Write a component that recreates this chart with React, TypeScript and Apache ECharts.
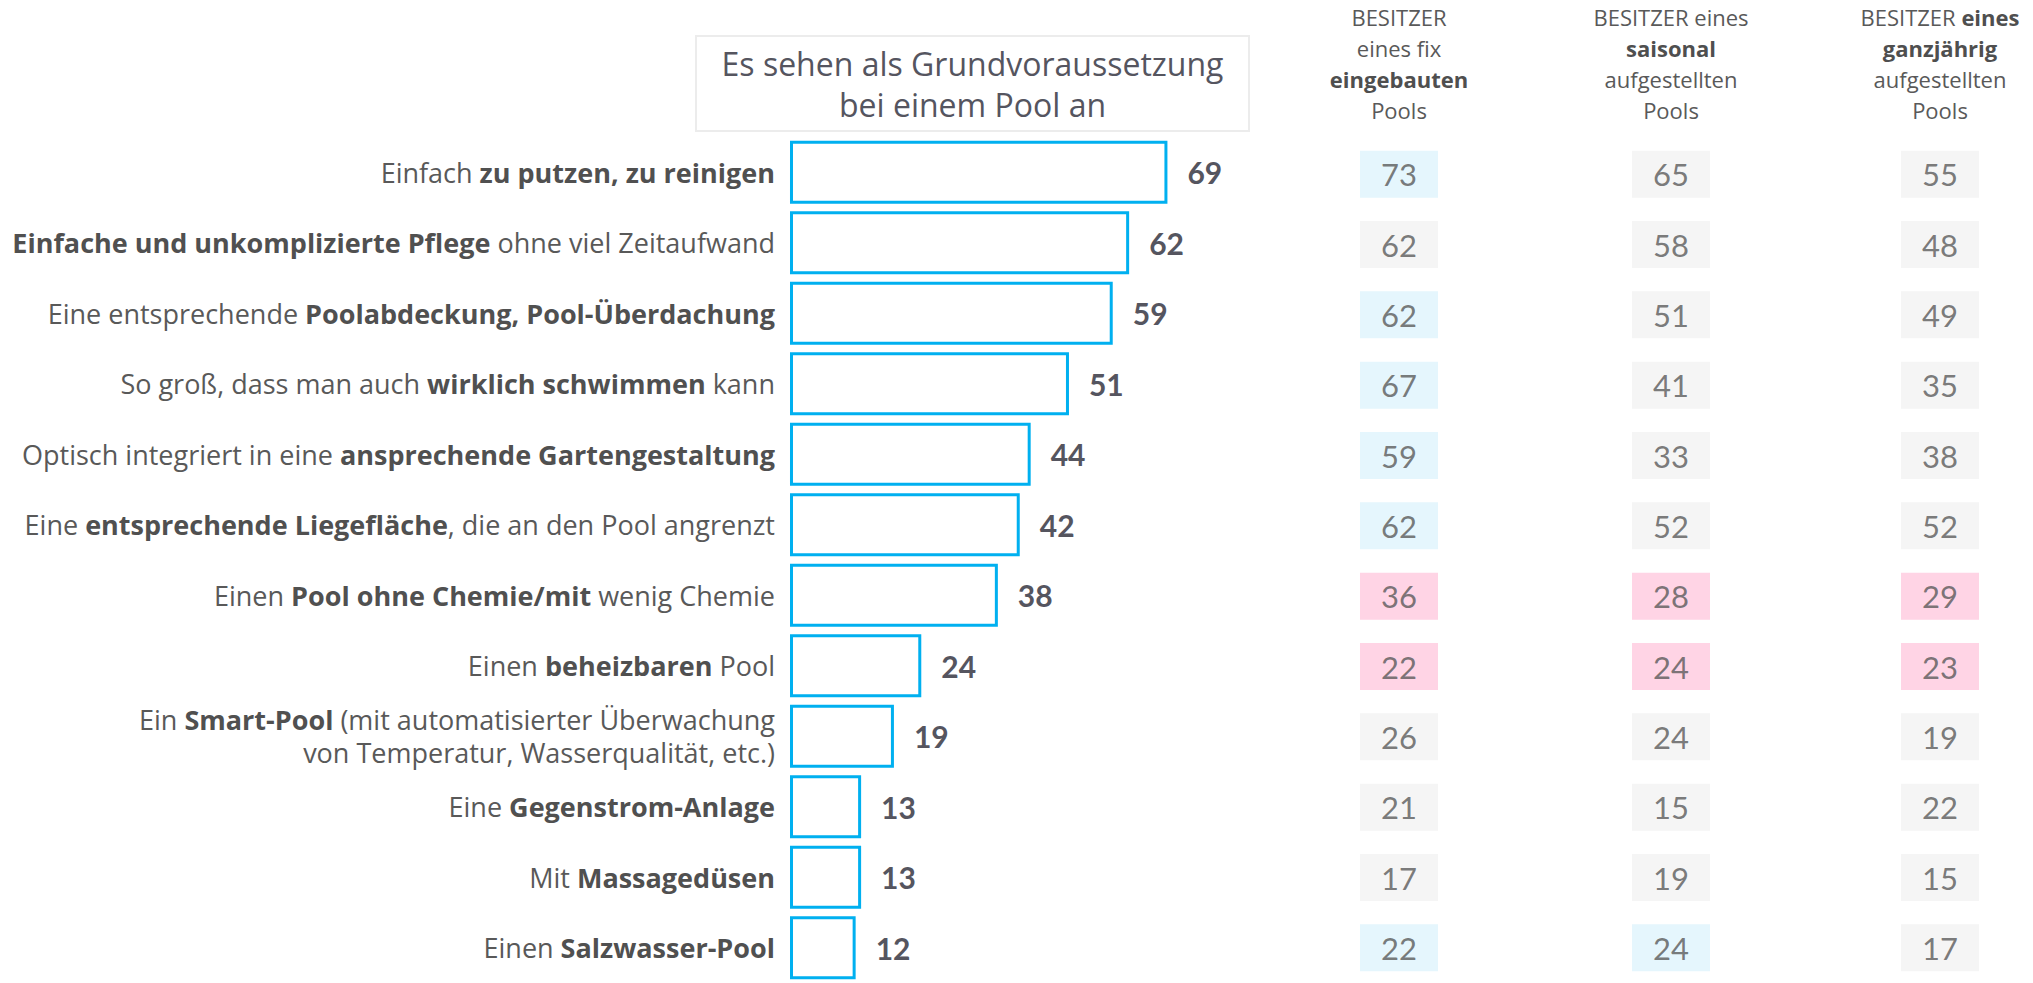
import React, { useEffect, useRef } from "react";
import * as echarts from "echarts";

// ---------- DATA ----------
const categories: string[] = [
  "Einfach {b|zu putzen, zu reinigen}",
  "{b|Einfache und unkomplizierte Pflege} ohne viel Zeitaufwand",
  "Eine entsprechende {b|Poolabdeckung, Pool-Überdachung}",
  "So groß, dass man auch {b|wirklich schwimmen} kann",
  "Optisch integriert in eine {b|ansprechende Gartengestaltung}",
  "Eine {b|entsprechende Liegefläche}, die an den Pool angrenzt",
  "Einen {b|Pool ohne Chemie/mit} wenig Chemie",
  "Einen {b|beheizbaren} Pool",
  "Ein {b|Smart-Pool} (mit automatisierter Überwachung\nvon Temperatur, Wasserqualität, etc.)",
  "Eine {b|Gegenstrom-Anlage}",
  "Mit {b|Massagedüsen}",
  "Einen {b|Salzwasser-Pool}",
];

const totalValues: number[] = [69, 62, 59, 51, 44, 42, 38, 24, 19, 13, 13, 12];

const columnHeaders: string[] = [
  "BESITZER\neines fix\n{b|eingebauten}\nPools",
  "BESITZER eines\n{b|saisonal}\naufgestellten\nPools",
  "BESITZER {b|eines}\n{b|ganzjährig}\naufgestellten\nPools",
];

const fixValues: number[] = [73, 62, 62, 67, 59, 62, 36, 22, 26, 21, 17, 22];
const saisonalValues: number[] = [65, 58, 51, 41, 33, 52, 28, 24, 24, 15, 19, 24];
const ganzjaehrigValues: number[] = [55, 48, 49, 35, 38, 52, 29, 23, 19, 22, 15, 17];

// h = above average (blue), l = below average (pink), n = neutral (grey)
const fixMarks: string[] = ["h", "n", "h", "h", "h", "h", "l", "l", "n", "n", "n", "h"];
const saisonalMarks: string[] = ["n", "n", "n", "n", "n", "n", "l", "l", "n", "n", "n", "h"];
const ganzjaehrigMarks: string[] = ["n", "n", "n", "n", "n", "n", "l", "l", "n", "n", "n", "n"];

const titleText = "Es sehen als Grundvoraussetzung\nbei einem Pool an";

// ---------- STYLE ----------
const FONT = "Open Sans";
const NUMFONT = "Lato";
const TEXT = "#595959";
const markColors: Record<string, string> = { h: "#DFF4FD", l: "#FFC9DE", n: "#F2F2F2" };

export default function App() {
  const ref = useRef<HTMLDivElement>(null);

  useEffect(() => {
    if (!ref.current) return;
    const chart = echarts.init(ref.current, undefined, { renderer: "svg" });

    const rowTop = 137;
    const rowsHeight = 853;
    const colCenters = [1399, 1671, 1940];
    const cellW = 78;

    const colValues = [fixValues, saisonalValues, ganzjaehrigValues];
    const colMarks = [fixMarks, saisonalMarks, ganzjaehrigMarks];

    const grids: any[] = [{ left: 790, top: rowTop, width: 547, height: rowsHeight }];
    const xAxes: any[] = [{ gridIndex: 0, type: "value", min: 0, max: 100, show: false }];
    const yAxes: any[] = [
      {
        gridIndex: 0,
        type: "category",
        data: categories,
        inverse: true,
        axisLine: { show: false },
        axisTick: { show: false },
        splitLine: { show: false },
        axisLabel: {
          interval: 0,
          margin: 15,
          align: "right",
          fontFamily: FONT,
          fontSize: 27,
          lineHeight: 33,
          color: TEXT,
          rich: {
            b: { fontFamily: FONT, fontSize: 27, lineHeight: 33, fontWeight: "bold", color: "#505050" },
          },
        },
      },
    ];
    const series: any[] = [
      {
        type: "bar",
        xAxisIndex: 0,
        yAxisIndex: 0,
        data: totalValues,
        barWidth: 63,
        itemStyle: { color: "#ffffff", borderColor: "#00B0F0", borderWidth: 3 },
        label: {
          show: true,
          position: "right",
          distance: 20,
          fontFamily: NUMFONT,
          fontSize: 30,
          fontWeight: "bold",
          color: "#55555F",
        },
      },
    ];

    colValues.forEach((vals, j) => {
      const g = j + 1;
      grids.push({ left: colCenters[j] - cellW / 2, top: rowTop + 2, width: cellW, height: rowsHeight });
      xAxes.push({
        gridIndex: g,
        type: "category",
        data: [columnHeaders[j]],
        position: "top",
        axisLine: { show: false },
        axisTick: { show: false },
        splitLine: { show: false },
        axisLabel: {
          interval: 0,
          margin: 14,
          fontFamily: FONT,
          fontSize: 22,
          lineHeight: 31,
          color: TEXT,
          align: "center",
          rich: {
            b: { fontFamily: FONT, fontSize: 22, lineHeight: 31, fontWeight: "bold", color: "#4F4F4F" },
          },
        },
      });
      yAxes.push({ gridIndex: g, type: "category", data: categories, inverse: true, show: false });
      series.push({
        type: "scatter",
        xAxisIndex: g,
        yAxisIndex: g,
        symbol: "rect",
        symbolSize: [cellW, 47],
        data: vals.map((v, i) => ({
          value: [0, i, v],
          itemStyle: { color: markColors[colMarks[j][i]] },
        })),
        label: {
          show: true,
          position: "inside",
          formatter: (p: any) => String(p.value[2]),
          fontFamily: NUMFONT,
          fontSize: 31,
          color: TEXT,
        },
      });
    });

    const option: any = {
      animation: false,
      backgroundColor: "#ffffff",
      graphic: [
        {
          type: "rect",
          shape: { x: 696, y: 36, width: 553, height: 95 },
          style: { fill: "#ffffff", stroke: "#ECECEC", lineWidth: 2 },
        },
        {
          type: "text",
          x: 972.5,
          y: 84,
          style: {
            text: titleText,
            align: "center",
            verticalAlign: "middle",
            fontFamily: FONT,
            fontSize: 32,
            lineHeight: 41,
            fill: "#55555F",
          },
        },
      ],
      grid: grids,
      xAxis: xAxes,
      yAxis: yAxes,
      series,
    };

    chart.setOption(option);
    return () => chart.dispose();
  }, []);

  return (
    <div
      ref={ref}
      style={{ position: "absolute", left: 0, top: 0, width: 2033, height: 983 }}
    />
  );
}
